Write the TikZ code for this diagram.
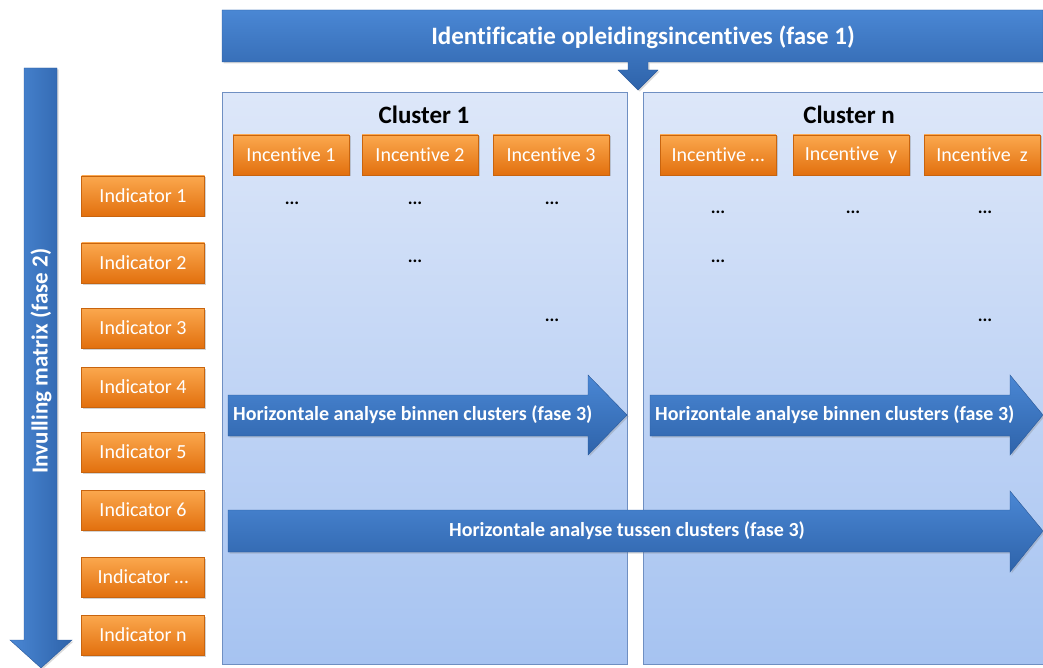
\documentclass[tikz,border=0pt]{standalone}
\usepackage{fontspec}
\setmainfont{Carlito}[Ligatures={NoCommon}]
\usetikzlibrary{shadows}

\definecolor{panelTop}{HTML}{DDE7F9}
\definecolor{panelBot}{HTML}{A6C3F1}
\definecolor{panelEdge}{HTML}{6F8FC2}
\definecolor{blueTop}{HTML}{4A87D4}
\definecolor{blueBot}{HTML}{2E63AA}
\definecolor{blueEdge}{HTML}{2A5A9C}
\definecolor{orangeTop}{HTML}{FBA84E}
\definecolor{orangeBot}{HTML}{E2700E}
\definecolor{orangeEdge}{HTML}{C8640E}

\begin{document}
\begin{tikzpicture}[x=1pt, y=-1pt]
          \tikzset{panel/.style={rectangle, draw=panelEdge, top color=panelTop,
              bottom color=panelBot, anchor=north west, inner sep=0pt}}
          \tikzset{box/.style={rectangle, draw=orangeEdge, top color=orangeTop,
              bottom color=orangeBot, text=white, minimum width=116pt,
              minimum height=40pt, inner sep=0pt,
              font=\fontsize{20}{24}\selectfont,
              drop shadow={opacity=0.35, shadow xshift=1.5pt, shadow yshift=-1.5pt}}}
          \tikzset{bluearrow/.style={draw=blueEdge, top color=blueTop, bottom color=blueBot,
              drop shadow={opacity=0.3, shadow xshift=1.5pt, shadow yshift=-1.5pt}}}
          \tikzset{arrowtext/.style={text=white, font=\bfseries\fontsize{20}{24}\selectfont}}
          \tikzset{dots/.style={font=\bfseries\fontsize{18}{20}\selectfont}}
          \tikzset{clustertitle/.style={font=\bfseries\fontsize{25}{30}\selectfont}}

          \useasboundingbox (0,0) rectangle (1043,668);

          % clusters
          \node[panel, minimum width=405pt, minimum height=572pt] (clusterA) at (222,92) {};
          \node[panel, minimum width=400pt, minimum height=572pt] (clusterN) at (643,92) {};
          \node[clustertitle] (titleA) at (424,115) {Cluster 1};
          \node[clustertitle] (titleN) at (849,115) {Cluster n};

          % fase 1
          \path[bluearrow] (222,10) -- (1043,10) -- (1043,62) -- (648,62) -- (648,70)
            -- (658,70) -- (638,90) -- (618,70) -- (628,70) -- (628,62) -- (222,62) -- cycle;
          \node[text=white, font=\bfseries\fontsize{25}{30}\selectfont] (fase1) at (643,37)
            {Identificatie opleidingsincentives (fase 1)};

          % fase 2
          \path[draw=blueEdge, left color=blueTop, right color=blueBot,
              drop shadow={opacity=0.3, shadow xshift=1.5pt, shadow yshift=-1.5pt}]
            (24,68) -- (57,68) -- (57,640) -- (72,640) -- (41,668) -- (10,640)
            -- (24,640) -- cycle;
          \node[arrowtext, font=\bfseries\fontsize{23}{26}\selectfont, rotate=90] (fase2)
            at (41,361) {Invulling matrix (fase 2)};

          % fase 3
          \path[bluearrow] (228,395) -- (588,395) -- (588,375) -- (627,415) -- (588,455)
            -- (588,436) -- (228,436) -- cycle;
          \node[arrowtext, anchor=west, inner sep=0pt] (binnenA) at (233,415)
            {Horizontale analyse binnen clusters (fase 3)};
          \path[bluearrow] (650,395) -- (1010,395) -- (1010,375) -- (1043,415) -- (1010,455)
            -- (1010,436) -- (650,436) -- cycle;
          \node[arrowtext, anchor=west, inner sep=0pt] (binnenN) at (655,415)
            {Horizontale analyse binnen clusters (fase 3)};
          \path[bluearrow] (228,510) -- (1010,510) -- (1010,491) -- (1043,531) -- (1010,572)
            -- (1010,552) -- (228,552) -- cycle;
          \node[arrowtext] (tussen) at (627,531)
            {Horizontale analyse tussen clusters (fase 3)};

          % incentives
          \node[box] (inc1) at (291,155) {Incentive 1};
          \node[box] (inc2) at (420,155) {Incentive 2};
          \node[box] (inc3) at (551,155) {Incentive 3};
          \node[box] (incx) at (718,155) {Incentive \ldots};
          \node[box] (incy) at (851,155) {Incentive\ \ y};
          \node[box] (incz) at (982,155) {Incentive\ \ z};

          % indicators
          \node[box, minimum width=123pt] (ind1) at (143,196) {Indicator 1};
          \node[box, minimum width=123pt] (ind2) at (143,263) {Indicator 2};
          \node[box, minimum width=123pt] (ind3) at (143,328) {Indicator 3};
          \node[box, minimum width=123pt] (ind4) at (143,387) {Indicator 4};
          \node[box, minimum width=123pt] (ind5) at (143,452) {Indicator 5};
          \node[box, minimum width=123pt] (ind6) at (143,510) {Indicator 6};
          \node[box, minimum width=123pt] (indx) at (143,577) {Indicator \ldots};
          \node[box, minimum width=123pt] (indn) at (143,635) {Indicator n};

          % matrix cells
          \node[dots] (c11) at (292,203) {...};
          \node[dots] (c12) at (415,203) {...};
          \node[dots] (c13) at (552,203) {...};
          \node[dots] (c22) at (415,261) {...};
          \node[dots] (c33) at (552,320) {...};
          \node[dots] (n11) at (718,212) {...};
          \node[dots] (n12) at (853,212) {...};
          \node[dots] (n13) at (985,212) {...};
          \node[dots] (n21) at (718,261) {...};
          \node[dots] (n33) at (985,320) {...};
        \end{tikzpicture}
\end{document}
